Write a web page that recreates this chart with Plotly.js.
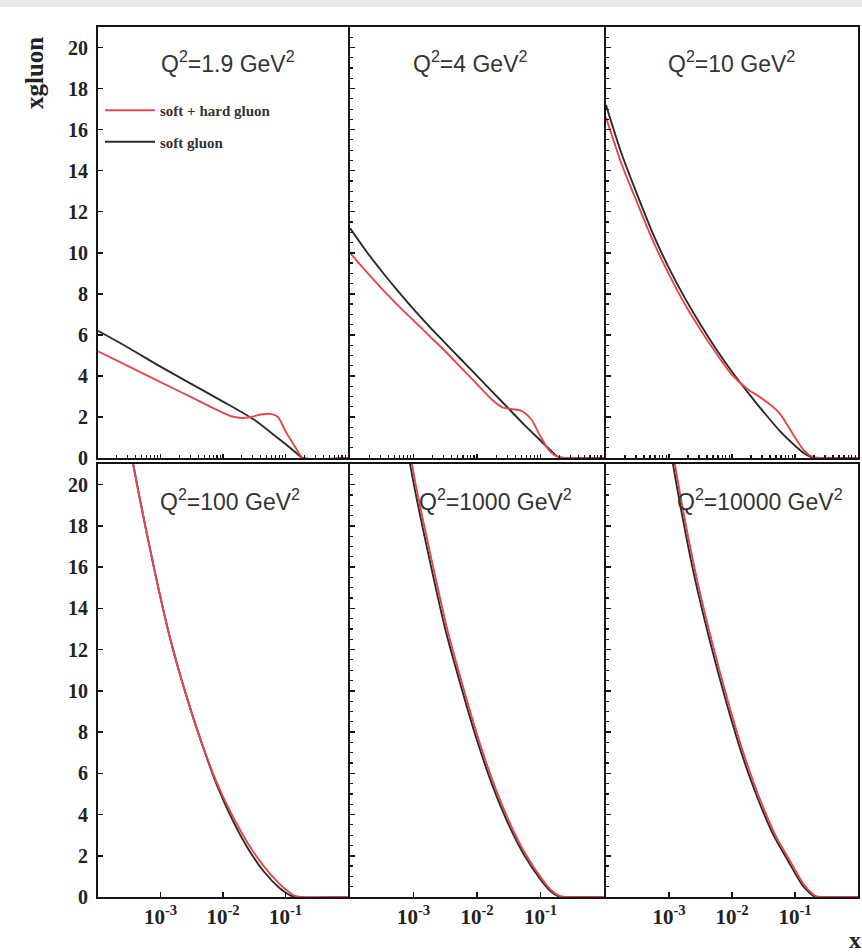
<!DOCTYPE html>
<html><head><meta charset="utf-8">
<script src="https://cdn.plot.ly/plotly-3.0.1.min.js"></script>
<style>
html,body{margin:0;padding:0;background:#fff;}
#band{position:absolute;left:0;top:0;width:862px;height:7px;background:#e8e9ee;z-index:5;}
#chart{width:862px;height:952px;}
</style>
</head><body><div id="band"></div><div id="chart"></div>
<script>
// ---- data (x = Bjorken x, y = x*gluon) ----
// Q^2 = 1.9 GeV^2
var xA_soft = [1e-4, 3.16e-4, 1e-3, 3.16e-3, 1e-2, 3.16e-2, 6.3e-2, 0.1, 0.141, 0.19, 1];
var yA_soft = [6.2, 5.35, 4.45, 3.6, 2.75, 1.86, 1.16, 0.68, 0.3, 0, 0];
var xA_hard = [1e-4, 3.16e-4, 1e-3, 3.16e-3, 1e-2, 1.41e-2, 2.0e-2, 2.82e-2, 3.98e-2, 6.03e-2, 7.59e-2, 0.1, 0.126, 0.158, 0.19, 1];
var yA_hard = [5.2, 4.45, 3.7, 2.95, 2.2, 2.02, 1.95, 2.0, 2.12, 2.14, 2.0, 1.3, 0.8, 0.32, 0, 0];
// Q^2 = 4 GeV^2
var xB_soft = [1e-4, 1.78e-4, 3.16e-4, 5.62e-4, 1e-3, 1.78e-3, 3.16e-3, 5.62e-3, 1e-2, 1.78e-2, 3.16e-2, 5.62e-2, 0.1, 0.141, 0.19, 0.251, 1];
var yB_soft = [11.2, 10.1, 9.1, 8.15, 7.25, 6.4, 5.6, 4.8, 4.0, 3.2, 2.4, 1.6, 0.85, 0.4, 0.05, 0, 0];
var xB_hard = [1e-4, 1.78e-4, 3.16e-4, 5.62e-4, 1e-3, 1.78e-3, 3.16e-3, 5.62e-3, 1e-2, 1.78e-2, 2.51e-2, 3.55e-2, 5.01e-2, 7.08e-2, 0.1, 0.141, 0.19, 0.251, 1];
var yB_hard = [10.0, 9.1, 8.25, 7.45, 6.7, 5.95, 5.2, 4.4, 3.6, 2.8, 2.47, 2.38, 2.3, 1.9, 1.05, 0.32, 0.04, 0, 0];
// Q^2 = 10 GeV^2
var xC_soft = [1e-4, 1.78e-4, 3.16e-4, 5.62e-4, 1e-3, 1.78e-3, 3.16e-3, 5.62e-3, 1e-2, 1.78e-2, 3.16e-2, 5.62e-2, 0.1, 0.141, 0.19, 0.251, 1];
var yC_soft = [17.2, 14.8, 12.8, 10.9, 9.25, 7.8, 6.5, 5.3, 4.2, 3.2, 2.25, 1.35, 0.6, 0.22, 0.02, 0, 0];
var xC_hard = [1e-4, 1.78e-4, 3.16e-4, 5.62e-4, 1e-3, 1.78e-3, 3.16e-3, 5.62e-3, 1e-2, 1.78e-2, 3.16e-2, 5.62e-2, 0.1, 0.141, 0.19, 0.251, 1];
var yC_hard = [16.6, 14.3, 12.4, 10.55, 8.95, 7.5, 6.25, 5.1, 4.05, 3.35, 2.85, 2.2, 1.0, 0.35, 0.05, 0, 0];
// Q^2 = 100 GeV^2
var xD_soft = [2.51e-4, 4.47e-4, 7.94e-4, 1.41e-3, 2.51e-3, 4.47e-3, 7.94e-3, 1.41e-2, 2.51e-2, 4.47e-2, 7.94e-2, 0.112, 0.141, 1];
var yD_soft = [23.6, 19.6, 15.9, 12.6, 9.9, 7.55, 5.45, 3.75, 2.35, 1.25, 0.45, 0.12, 0, 0];
var xD_hard = [2.51e-4, 4.47e-4, 7.94e-4, 1.41e-3, 2.51e-3, 4.47e-3, 7.94e-3, 1.41e-2, 2.51e-2, 4.47e-2, 7.94e-2, 0.112, 0.141, 0.178, 1];
var yD_hard = [23.6, 19.6, 15.9, 12.6, 9.9, 7.55, 5.55, 3.95, 2.6, 1.5, 0.65, 0.25, 0.05, 0, 0];
// Q^2 = 1000 GeV^2
var xE_soft = [5.62e-4, 1e-3, 1.78e-3, 3.16e-3, 5.62e-3, 1e-2, 1.78e-2, 3.16e-2, 5.62e-2, 0.1, 0.141, 0.19, 0.251, 1];
var yE_soft = [24.4, 20.1, 16.4, 13.0, 10.2, 7.6, 5.35, 3.5, 2.0, 0.85, 0.3, 0.04, 0, 0];
var xE_hard = [6.03e-4, 1.07e-3, 1.91e-3, 3.39e-3, 6.03e-3, 1.07e-2, 1.91e-2, 3.39e-2, 6.03e-2, 0.107, 0.151, 0.204, 0.27, 1];
var yE_hard = [24.4, 20.1, 16.4, 13.0, 10.2, 7.6, 5.35, 3.5, 2.0, 0.85, 0.3, 0.04, 0, 0];
// Q^2 = 10000 GeV^2
var xF_soft = [7.94e-4, 1.41e-3, 2.51e-3, 4.47e-3, 7.94e-3, 1.41e-2, 2.51e-2, 4.47e-2, 7.94e-2, 0.126, 0.158, 0.2, 0.251, 1];
var yF_soft = [24.0, 19.5, 15.6, 12.4, 9.55, 7.0, 4.85, 3.05, 1.7, 0.65, 0.3, 0.04, 0, 0];
var xF_hard = [8.51e-4, 1.51e-3, 2.69e-3, 4.79e-3, 8.51e-3, 1.51e-2, 2.69e-2, 4.79e-2, 8.51e-2, 0.135, 0.169, 0.214, 0.269, 1];
var yF_hard = [24.0, 19.5, 15.6, 12.4, 9.55, 7.0, 4.85, 3.05, 1.7, 0.65, 0.3, 0.04, 0, 0];

var panelLabels = ["Q<sup>2</sup>=1.9 GeV<sup>2</sup>", "Q<sup>2</sup>=4 GeV<sup>2</sup>", "Q<sup>2</sup>=10 GeV<sup>2</sup>",
                   "Q<sup>2</sup>=100 GeV<sup>2</sup>", "Q<sup>2</sup>=1000 GeV<sup>2</sup>", "Q<sup>2</sup>=10000 GeV<sup>2</sup>"];
var seriesNames = ["soft + hard gluon", "soft gluon"];
var xTickVals = [1e-3, 1e-2, 1e-1];
var xTickText = ["10<sup>-3</sup>", "10<sup>-2</sup>", "10<sup>-1</sup>"];
var yTickVals = [0, 2, 4, 6, 8, 10, 12, 14, 16, 18, 20];
var yTickText = ["0", "2", "4", "6", "8", "10", "12", "14", "16", "18", "20"];

// ---- build ----
var softX = [xA_soft, xB_soft, xC_soft, xD_soft, xE_soft, xF_soft];
var softY = [yA_soft, yB_soft, yC_soft, yD_soft, yE_soft, yF_soft];
var hardX = [xA_hard, xB_hard, xC_hard, xD_hard, xE_hard, xF_hard];
var hardY = [yA_hard, yB_hard, yC_hard, yD_hard, yE_hard, yF_hard];

var RED = '#e5484a', BLK = '#2b2b2b';
var traces = [];
for (var i = 0; i < 6; i++) {
  var ax = i === 0 ? '' : String(i + 1);
  traces.push({x: softX[i], y: softY[i], type: 'scatter', mode: 'lines', name: seriesNames[1],
    xaxis: 'x' + ax, yaxis: 'y' + ax, line: {color: BLK, width: 1.9, shape: 'spline', smoothing: 0.8},
    showlegend: i === 0, legendgroup: 'soft', legendrank: 2, hoverinfo: 'skip'});
  traces.push({x: hardX[i], y: hardY[i], type: 'scatter', mode: 'lines', name: seriesNames[0],
    xaxis: 'x' + ax, yaxis: 'y' + ax, line: {color: RED, width: 1.9, shape: 'spline', smoothing: 0.8},
    showlegend: i === 0, legendgroup: 'hard', legendrank: 1, hoverinfo: 'skip'});
}

var W = 862, H = 952, L = 98, R = 4, T = 27, B = 55;
var pw = W - L - R, ph = H - T - B;
function px(a, b) { return [(a - L) / pw, (b - L) / pw]; }
function py(top, bot) { return [(H - B - bot) / ph, (H - B - top) / ph]; }
var colDom = [px(98, 348), px(350, 604), px(606, 858)];
var rowDom = [py(27, 458), py(464, 897)];

var serif = 'Liberation Serif, Times New Roman, serif';
var sans = 'Liberation Sans, Arial, Helvetica, sans-serif';

var layout = {
  width: W, height: H,
  margin: {l: L, r: R, t: T, b: B},
  paper_bgcolor: '#fff', plot_bgcolor: '#fff',
  showlegend: true,
  legend: {x: (100 - L) / pw, xanchor: 'left', y: (H - B - 94) / ph, yanchor: 'top',
    bgcolor: 'rgba(0,0,0,0)', font: {family: serif, size: 15, weight: 700, color: '#333'},
    itemwidth: 50, tracegroupgap: 9, traceorder: 'grouped'},
  annotations: [],
  shapes: []
};

for (var i = 0; i < 6; i++) {
  var r = i < 3 ? 0 : 1, c = i % 3;
  var ax = i === 0 ? '' : String(i + 1);
  var xa = {
    type: 'log', range: [-4, 0], domain: colDom[c], anchor: 'y' + ax,
    showline: true, mirror: true, linecolor: '#151515', linewidth: 2,
    showgrid: false, zeroline: false, ticks: 'inside', ticklen: 5, tickwidth: 1.5, tickcolor: '#151515',
    tickvals: xTickVals, ticktext: xTickText,
    showticklabels: r === 1,
    tickfont: {family: serif, size: 21, weight: 700, color: '#222'}
  };
  if (r === 0) {
    xa.minor = {ticks: 'inside', ticklen: 3, tickwidth: 1.2, tickcolor: '#151515', dtick: 'D1', showgrid: false};
    xa.ticklen = 4;
  }
  var ya = {
    range: [0, 21], domain: rowDom[r], anchor: 'x' + ax,
    showline: true, mirror: true, linecolor: '#151515', linewidth: 2,
    showgrid: false, zeroline: false, ticks: 'inside', ticklen: 5, tickwidth: 1.5, tickcolor: '#151515',
    tickvals: yTickVals, ticktext: yTickText,
    showticklabels: c === 0, ticklabelstandoff: 4,
    tickfont: {family: serif, size: 20, weight: 700, color: '#222'}
  };
  if (c !== 0) {
    ya.minor = {ticks: 'inside', ticklen: 3, tickwidth: 1.2, tickcolor: '#151515', dtick: 0.5, showgrid: false};
  }
  layout['xaxis' + ax] = xa;
  layout['yaxis' + ax] = ya;
}

var labelPos = [[228, 62], [470, 62], [731, 62], [230, 500], [495, 500], [760, 500]];
for (var i = 0; i < 6; i++) {
  layout.annotations.push({xref: 'paper', yref: 'paper',
    x: (labelPos[i][0] - L) / pw, y: (H - B - labelPos[i][1]) / ph,
    xanchor: 'center', yanchor: 'middle', showarrow: false,
    text: panelLabels[i], font: {family: sans, size: 23, color: '#333'}});
}
layout.annotations.push({xref: 'paper', yref: 'paper', x: (35 - L) / pw, y: (H - B - 73) / ph,
  xanchor: 'center', yanchor: 'middle', showarrow: false, textangle: -90,
  text: 'xgluon', font: {family: serif, size: 25, weight: 700, color: '#222'}});
layout.annotations.push({xref: 'paper', yref: 'paper', x: (855 - L) / pw, y: (H - B - 940) / ph,
  xanchor: 'center', yanchor: 'middle', showarrow: false,
  text: 'x', font: {family: serif, size: 24, weight: 700, color: '#222'}});

Plotly.newPlot('chart', traces, layout, {displayModeBar: false, staticPlot: true});
</script></body></html>
